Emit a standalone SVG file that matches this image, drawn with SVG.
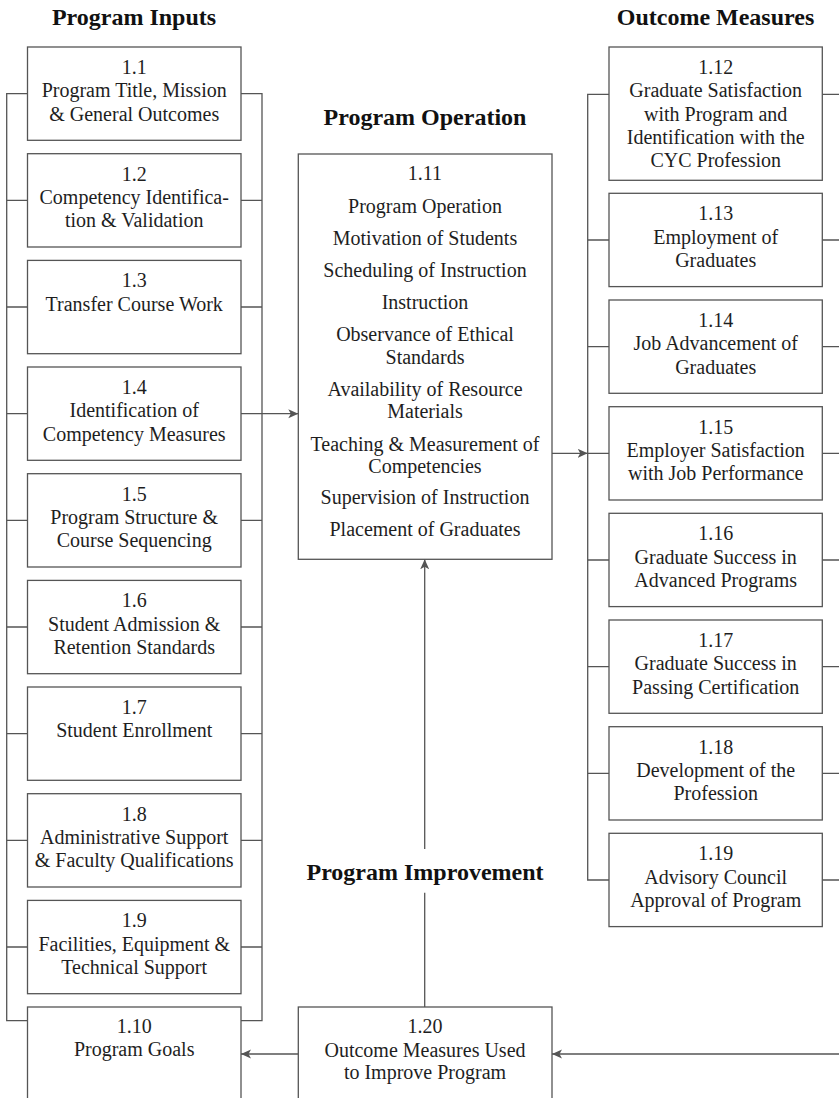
<svg xmlns="http://www.w3.org/2000/svg" width="839" height="1098" viewBox="0 0 839 1098">
<style>
.box{fill:#fff;stroke:#555;stroke-width:1.3}
.ln{fill:none;stroke:#555;stroke-width:1.3}
.t{font-family:"Liberation Serif","Times New Roman",serif;font-size:20px;fill:#1e1e1e;text-anchor:middle}
.h{font-family:"Liberation Serif","Times New Roman",serif;font-size:24px;font-weight:bold;fill:#111;text-anchor:middle}
</style>
<defs>
<marker id="ah" markerUnits="userSpaceOnUse" markerWidth="11" markerHeight="10" refX="10" refY="4.5" orient="auto">
<path d="M0,0 L10,4.5 L0,9 L2.5,4.5 z" fill="#555"/>
</marker>
</defs>
<g id="titles">
<text class="h" x="134" y="25">Program Inputs</text>
<text class="h" x="425" y="125">Program Operation</text>
<text class="h" x="715.5" y="25">Outcome Measures</text>
<text class="h" x="425" y="880">Program Improvement</text>
</g>
<g id="connectors">
<path class="ln" d="M27.5,93.7 H6.7 V1020.7 H27.5 M6.7,200.4 H27.5 M6.7,307 H27.5 M6.7,413.7 H27.5 M6.7,520.4 H27.5 M6.7,627 H27.5 M6.7,733.7 H27.5 M6.7,840.4 H27.5 M6.7,947 H27.5"/>
<path class="ln" d="M241,93.7 H262 V1020.7 H241 M241,200.4 H262 M241,307 H262 M241,413.7 H262 M241,520.4 H262 M241,627 H262 M241,733.7 H262 M241,840.4 H262 M241,947 H262"/>
<path class="ln" marker-end="url(#ah)" d="M262,413.7 H298.3"/>
<path class="ln" d="M609,94.3 H587.7 V880 H609 M587.7,240 H609 M587.7,346.7 H609 M587.7,453.3 H609 M587.7,560 H609 M587.7,666.7 H609 M587.7,773.3 H609"/>
<path class="ln" d="M822.3,94.3 H840 M822.3,240 H840 M822.3,346.7 H840 M822.3,453.3 H840 M822.3,560 H840 M822.3,666.7 H840 M822.3,773.3 H840 M822.3,880 H840"/>
<path class="ln" marker-end="url(#ah)" d="M552,453.3 H587.7"/>
<path class="ln" marker-end="url(#ah)" d="M840,1054 H552"/>
<path class="ln" marker-end="url(#ah)" d="M298.3,1054 H241"/>
<path class="ln" d="M424.7,1007 V892.7"/>
<path class="ln" marker-end="url(#ah)" d="M424.7,849 V559.3"/>
</g>
<g id="n1_1"><rect class="box" x="27.5" y="47" width="213.5" height="93.3"/><text class="t" x="134.2" y="74">1.1</text><text class="t" x="134.2" y="97.3">Program Title, Mission</text><text class="t" x="134.2" y="120.6">&amp; General Outcomes</text></g>
<g id="n1_2"><rect class="box" x="27.5" y="153.7" width="213.5" height="93.3"/><text class="t" x="134.2" y="180.7">1.2</text><text class="t" x="134.2" y="204">Competency Identifica-</text><text class="t" x="134.2" y="227.3">tion &amp; Validation</text></g>
<g id="n1_3"><rect class="box" x="27.5" y="260.4" width="213.5" height="93.3"/><text class="t" x="134.2" y="287.4">1.3</text><text class="t" x="134.2" y="310.7">Transfer Course Work</text></g>
<g id="n1_4"><rect class="box" x="27.5" y="367" width="213.5" height="93.3"/><text class="t" x="134.2" y="394">1.4</text><text class="t" x="134.2" y="417.3">Identification of</text><text class="t" x="134.2" y="440.6">Competency Measures</text></g>
<g id="n1_5"><rect class="box" x="27.5" y="473.7" width="213.5" height="93.3"/><text class="t" x="134.2" y="500.7">1.5</text><text class="t" x="134.2" y="524">Program Structure &amp;</text><text class="t" x="134.2" y="547.3">Course Sequencing</text></g>
<g id="n1_6"><rect class="box" x="27.5" y="580.4" width="213.5" height="93.3"/><text class="t" x="134.2" y="607.4">1.6</text><text class="t" x="134.2" y="630.7">Student Admission &amp;</text><text class="t" x="134.2" y="654">Retention Standards</text></g>
<g id="n1_7"><rect class="box" x="27.5" y="687" width="213.5" height="93.3"/><text class="t" x="134.2" y="714">1.7</text><text class="t" x="134.2" y="737.3">Student Enrollment</text></g>
<g id="n1_8"><rect class="box" x="27.5" y="793.7" width="213.5" height="93.3"/><text class="t" x="134.2" y="820.7">1.8</text><text class="t" x="134.2" y="844">Administrative Support</text><text class="t" x="134.2" y="867.3">&amp; Faculty Qualifications</text></g>
<g id="n1_9"><rect class="box" x="27.5" y="900.4" width="213.5" height="93.3"/><text class="t" x="134.2" y="927.4">1.9</text><text class="t" x="134.2" y="950.7">Facilities, Equipment &amp;</text><text class="t" x="134.2" y="974">Technical Support</text></g>
<g id="n1_10"><rect class="box" x="27.5" y="1007" width="213.5" height="110"/><text class="t" x="134.2" y="1033.3">1.10</text><text class="t" x="134.2" y="1056.3">Program Goals</text></g>
<g id="n1_11"><rect class="box" x="298.3" y="154" width="253.7" height="405.3"/>
<text class="t" x="425" y="180">1.11</text>
<text class="t" x="425" y="212.5">Program Operation</text>
<text class="t" x="425" y="245">Motivation of Students</text>
<text class="t" x="425" y="277">Scheduling of Instruction</text>
<text class="t" x="425" y="309">Instruction</text>
<text class="t" x="425" y="341">Observance of Ethical</text>
<text class="t" x="425" y="364">Standards</text>
<text class="t" x="425" y="396">Availability of Resource</text>
<text class="t" x="425" y="418">Materials</text>
<text class="t" x="425" y="450.5">Teaching &amp; Measurement of</text>
<text class="t" x="425" y="473">Competencies</text>
<text class="t" x="425" y="504">Supervision of Instruction</text>
<text class="t" x="425" y="535.5">Placement of Graduates</text>
</g>
<g id="n1_12"><rect class="box" x="609" y="47" width="213.3" height="133.3"/><text class="t" x="715.7" y="74">1.12</text><text class="t" x="715.7" y="97.3">Graduate Satisfaction</text><text class="t" x="715.7" y="120.6">with Program and</text><text class="t" x="715.7" y="143.9">Identification with the</text><text class="t" x="715.7" y="167">CYC Profession</text></g>
<g id="n1_13"><rect class="box" x="609" y="193.3" width="213.3" height="93.3"/><text class="t" x="715.7" y="220.3">1.13</text><text class="t" x="715.7" y="243.6">Employment of</text><text class="t" x="715.7" y="266.9">Graduates</text></g>
<g id="n1_14"><rect class="box" x="609" y="300" width="213.3" height="93.3"/><text class="t" x="715.7" y="327">1.14</text><text class="t" x="715.7" y="350.3">Job Advancement of</text><text class="t" x="715.7" y="373.6">Graduates</text></g>
<g id="n1_15"><rect class="box" x="609" y="406.7" width="213.3" height="93.3"/><text class="t" x="715.7" y="433.7">1.15</text><text class="t" x="715.7" y="457">Employer Satisfaction</text><text class="t" x="715.7" y="480.3">with Job Performance</text></g>
<g id="n1_16"><rect class="box" x="609" y="513.3" width="213.3" height="93.3"/><text class="t" x="715.7" y="540.3">1.16</text><text class="t" x="715.7" y="563.6">Graduate Success in</text><text class="t" x="715.7" y="586.9">Advanced Programs</text></g>
<g id="n1_17"><rect class="box" x="609" y="620" width="213.3" height="93.3"/><text class="t" x="715.7" y="647">1.17</text><text class="t" x="715.7" y="670.3">Graduate Success in</text><text class="t" x="715.7" y="693.6">Passing Certification</text></g>
<g id="n1_18"><rect class="box" x="609" y="726.7" width="213.3" height="93.3"/><text class="t" x="715.7" y="753.7">1.18</text><text class="t" x="715.7" y="777">Development of the</text><text class="t" x="715.7" y="800.3">Profession</text></g>
<g id="n1_19"><rect class="box" x="609" y="833.3" width="213.3" height="93.3"/><text class="t" x="715.7" y="860.3">1.19</text><text class="t" x="715.7" y="883.6">Advisory Council</text><text class="t" x="715.7" y="906.9">Approval of Program</text></g>
<g id="n1_20"><rect class="box" x="298.3" y="1007" width="253.7" height="110"/><text class="t" x="425" y="1033.3">1.20</text><text class="t" x="425" y="1056.6">Outcome Measures Used</text><text class="t" x="425" y="1078.5">to Improve Program</text></g>
</svg>
